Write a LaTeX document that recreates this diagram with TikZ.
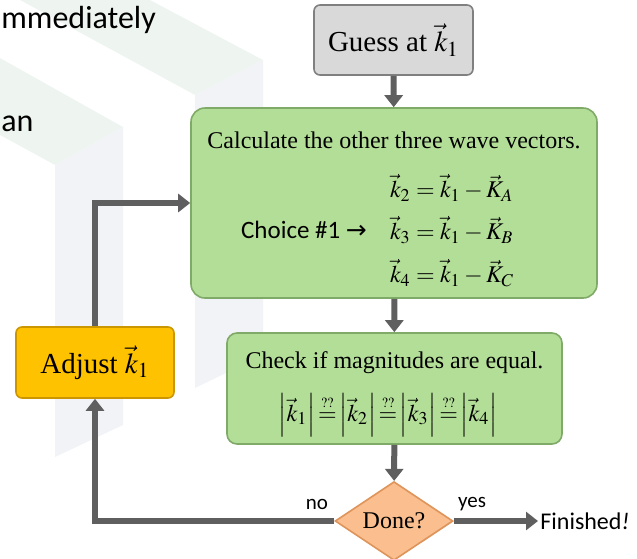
\documentclass[tikz,border=0pt]{standalone}
\usepackage{amsmath}
\usepackage{mathptmx}
\usepackage{fontspec}
\setmainfont{Liberation Serif}
\newfontfamily\calibri{Carlito}
\newfontfamily\arrowfont{DejaVu Sans}
\usetikzlibrary{shapes.geometric,arrows.meta}
\definecolor{guessgray}{RGB}{217,217,217}
\definecolor{guessedge}{RGB}{128,128,128}
\definecolor{calcgreen}{RGB}{179,222,151}
\definecolor{greenedge}{RGB}{128,170,104}
\definecolor{adjyellow}{RGB}{255,194,0}
\definecolor{adjedge}{RGB}{204,150,0}
\definecolor{doneorange}{RGB}{250,190,143}
\definecolor{doneedge}{RGB}{222,148,90}
\definecolor{flowgray}{RGB}{95,95,95}
\definecolor{bgtop}{RGB}{238,245,240}
\definecolor{bgside}{RGB}{242,243,246}
\newcommand{\qeq}{{\overset{\scriptscriptstyle ??}{=}}}

\begin{document}
\begin{tikzpicture}[x=0.5pt, y=-0.5pt, font=\fontsize{12}{14}\selectfont,
  box/.style = {draw, line width=0.8pt, rounded corners=3pt, align=center},
  flow/.style = {draw=flowgray, line width=3pt, -{Triangle[width=9pt,length=6pt]}},
  lbl/.style = {font=\calibri\fontsize{10.5}{12}\selectfont, inner sep=1pt},
  slide/.style = {font=\calibri\fontsize{16}{19}\selectfont, inner sep=0pt, anchor=base west}]
  \useasboundingbox (0,0) rectangle (637,558);
  \fill[bgtop] (20,0) -- (150,0) -- (263,60) -- (195,95) -- cycle;
  \fill[bgside] (195,95) -- (263,60) -- (263,355) -- (195,388) -- cycle;
  \fill[bgtop] (0,58) -- (123,127) -- (55,165) -- (0,135) -- cycle;
  \fill[bgside] (55,165) -- (123,127) -- (123,425) -- (55,457) -- cycle;
  \node[slide] (slide1) at (1,28) {mmediately};
  \node[slide] (slide2) at (1,131) {an};

  \node[box, fill=guessgray, draw=guessedge, minimum width=79.5pt, minimum height=35pt, font=\fontsize{14.5}{16}\selectfont] (guess) at (393.5,40) {Guess at $\vec{k}_1$};
  \node[box, fill=calcgreen, draw=greenedge, rounded corners=7pt, minimum width=203pt, minimum height=95pt] (calc) at (394,203) {};
  \node (calctitle) at (394,140) {Calculate the other three wave vectors.};
  \node[anchor=west] (eq2) at (383,188) {$\vec{k}_2=\vec{k}_1-\vec{K}_A$};
  \node[anchor=west] (eq3) at (383,230) {$\vec{k}_3=\vec{k}_1-\vec{K}_B$};
  \node[anchor=west] (eq4) at (383,273) {$\vec{k}_4=\vec{k}_1-\vec{K}_C$};
  \node[anchor=east, font=\calibri\fontsize{12.5}{15}\selectfont] (choice) at (374,230) {Choice \#1 {\arrowfont →}};
  \node[box, fill=calcgreen, draw=greenedge, rounded corners=5pt, minimum width=167.5pt, minimum height=55.5pt] (check) at (394.5,388.5) {};
  \node (checktitle) at (394.5,363) {Check if magnitudes are equal.};
  \node (magn) at (388,415) {$\left|\vec{k}_1\right|\qeq\left|\vec{k}_2\right|\qeq\left|\vec{k}_3\right|\qeq\left|\vec{k}_4\right|$};
  \node[box, fill=adjyellow, draw=adjedge, minimum width=79pt, minimum height=35.5pt, font=\fontsize{14.5}{16}\selectfont] (adjust) at (95,362.5) {Adjust $\vec{k}_1$};
  \node[diamond, draw=doneedge, fill=doneorange, line width=0.8pt, minimum width=59pt, minimum height=36pt, inner sep=0pt] (done) at (394,521) {Done?};
  \node[anchor=west, font=\calibri\fontsize{12}{14}\selectfont, inner sep=1pt] (fin) at (538,521) {Finished\textit{!}};
  \node[lbl] (no) at (317,504) {no};
  \node[lbl] (yes) at (472,504) {yes};

  \draw[flow] (guess) to (calc);
  \draw[flow] (calc) to (check);
  \draw[flow] (check) to (done);
  \draw[flow, line width=2.6pt] (done.west) -| (adjust.south);
  \draw[flow, line width=2.6pt] (adjust.north) |- (calc.west);
  \draw[flow, line width=2.6pt] (done.east) to (fin.west);
\end{tikzpicture}
\end{document}
